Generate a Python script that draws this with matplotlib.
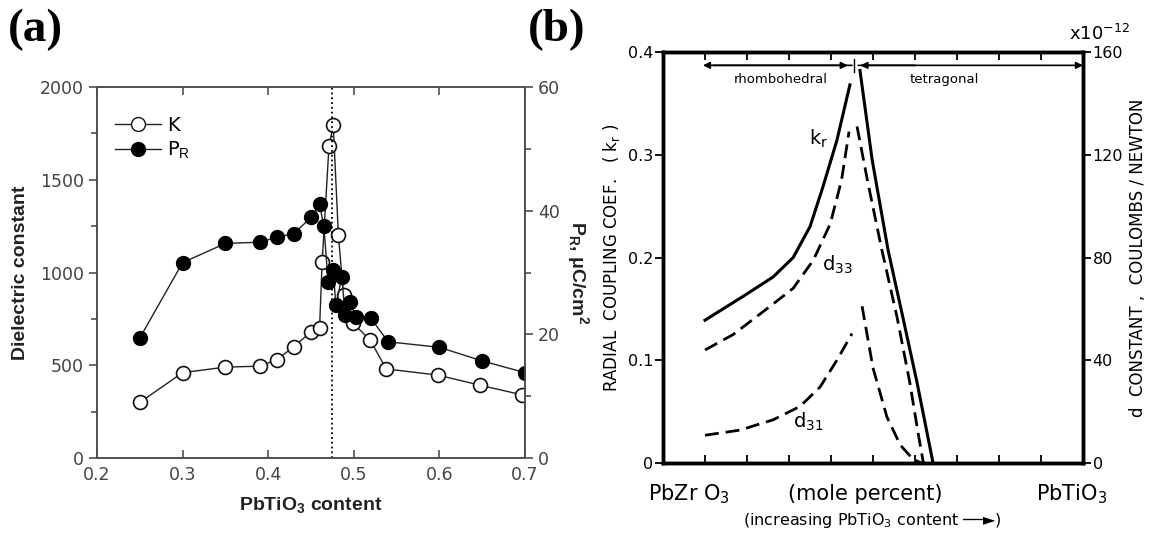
import matplotlib.pyplot as plt
from matplotlib.ticker import MultipleLocator
from matplotlib.lines import Line2D

plt.rcParams["mathtext.fontset"] = "custom"
plt.rcParams["mathtext.rm"] = "Liberation Sans"
plt.rcParams["mathtext.bf"] = "Liberation Sans:bold"
plt.rcParams["mathtext.default"] = "regular"

# ---- panel (a): dielectric constant K and remanent polarization P_R ----
K_X = [0.25, 0.30, 0.35, 0.39, 0.41, 0.43, 0.45, 0.46, 0.463, 0.471,
       0.476, 0.482, 0.488, 0.499, 0.519, 0.538, 0.598, 0.647, 0.697]
K_VAL = [300, 460, 490, 495, 530, 600, 680, 700, 1055, 1680,
         1795, 1200, 880, 727, 636, 480, 447, 393, 340]

PR_X = [0.25, 0.30, 0.35, 0.39, 0.41, 0.43, 0.45, 0.46, 0.465, 0.47,
        0.476, 0.479, 0.486, 0.49, 0.496, 0.502, 0.52, 0.54, 0.60, 0.65, 0.70]
PR_VAL = [19.4, 31.6, 34.7, 34.9, 35.7, 36.3, 38.9, 41.0, 37.5, 28.5,
          30.4, 24.7, 29.2, 23.1, 25.3, 22.8, 22.6, 18.8, 17.9, 15.7, 13.8]

MPB_X = 0.475

A_XTICKS = [0.2, 0.3, 0.4, 0.5, 0.6, 0.7]
A_XTICKLABELS = ["0.2", "0.3", "0.4", "0.5", "0.6", "0.7"]

# ---- panel (b): PZT coupling coefficient k_r (left) and d constants (right, x1e-12 C/N) ----
KR_RISE_X = [10, 19, 26.2, 31, 35, 38.1, 41.4, 44.5]
KR_RISE = [0.139, 0.162, 0.181, 0.200, 0.230, 0.269, 0.314, 0.368]
KR_FALL_X = [46.9, 49.8, 53.6, 57.1, 60.5, 64.3]
KR_FALL = [0.382, 0.295, 0.207, 0.142, 0.078, 0.0]

D33_RISE_X = [10, 16.7, 24.7, 31, 35.8, 39.8, 42.5, 44.3]
D33_RISE = [44, 50, 60, 68, 79, 93, 110, 129]
D33_FALL_X = [46.2, 48.8, 52.1, 55.7, 58.8, 60.7, 62.0]
D33_FALL = [131, 109, 83, 57, 31, 12, 0]

D31_RISE_X = [10, 18.3, 26.2, 32.6, 37.4, 41.4, 45.0]
D31_RISE = [10.8, 12.8, 16.8, 22, 29.6, 40, 50.4]
D31_FALL_X = [47.4, 50, 53.3, 56.5, 59.5, 61.5]
D31_FALL = [61, 37, 18, 7, 1.5, 0]

B_XTICKS = [10, 20, 30, 40, 50, 60, 70, 80, 90]
B_YTICKS = [0, 0.1, 0.2, 0.3, 0.4]
B_YTICKLABELS = ["0", "0.1", "0.2", "0.3", "0.4"]
B_Y2TICKS = [0, 40, 80, 120, 160]

PHASE_X = 45.5

W, H = 1150, 533
fig = plt.figure(figsize=(W / 100, H / 100), dpi=100)

# ------------------------------------------------------------------ (a)
gray = "#505050"
ax = fig.add_axes([97 / W, 75 / H, 428 / W, 371 / H])
ax2 = ax.twinx()

ax.plot(K_X, K_VAL, "-", color="#222", lw=1.0, marker="o", ms=10,
        mfc="white", mec="#111", mew=1.2)
ax2.plot(PR_X, PR_VAL, "-", color="#222", lw=1.0, marker="o", ms=10,
         mfc="black", mec="black")
ax.axvline(MPB_X, color="black", ls=":", lw=1.3)

ax.set_xlim(0.2, 0.7)
ax.set_ylim(0, 2000)
ax2.set_ylim(0, 60)
ax.set_xticks(A_XTICKS)
ax.set_xticklabels(A_XTICKLABELS)
ax.yaxis.set_major_locator(MultipleLocator(500))
ax.yaxis.set_minor_locator(MultipleLocator(250))
ax2.yaxis.set_major_locator(MultipleLocator(20))
ax2.yaxis.set_minor_locator(MultipleLocator(10))

for a in (ax, ax2):
    for s in a.spines.values():
        s.set_color(gray)
        s.set_linewidth(1.2)
ax.tick_params(axis="x", direction="in", top=True, length=6, width=1.2,
               color=gray, labelcolor="#444", labelsize=12.5, pad=6)
for a in (ax, ax2):
    a.tick_params(axis="y", which="both", direction="out", width=1.2,
                  color=gray, labelcolor="#444", labelsize=12.5)
    a.tick_params(axis="y", which="major", length=6)
    a.tick_params(axis="y", which="minor", length=4)

ax.set_ylabel("Dielectric constant", fontsize=14, fontweight="bold",
              family="Liberation Sans", color="#222", labelpad=8)
ax.set_xlabel(r"PbTiO$_\mathbf{3}$ content", fontsize=14, fontweight="bold",
              family="Liberation Sans", color="#222", labelpad=8)
ax2.set_ylabel(r"P$_\mathbf{R}$, μC/cm$^\mathbf{2}$", fontsize=14,
               fontweight="bold", family="Liberation Sans", color="#222",
               rotation=270, labelpad=22)

handles = [
    Line2D([], [], color="#222", lw=1.0, marker="o", ms=10, mfc="white", mec="#111"),
    Line2D([], [], color="#222", lw=1.0, marker="o", ms=10, mfc="black", mec="black"),
]
ax2.legend(handles, ["K", r"P$_\mathrm{R}$"], loc="upper left",
           bbox_to_anchor=(0.0, 0.97), frameon=False, handlelength=2.4,
           handletextpad=0.3, labelspacing=0.25, fontsize=14)

fig.text(8 / W, 1 - 30 / H, "(a)", fontsize=34, fontweight="bold",
         family="Liberation Serif", va="center", ha="left")

# ------------------------------------------------------------------ (b)
bx = fig.add_axes([663 / W, 70 / H, 420 / W, 411 / H])
bx2 = bx.twinx()

bx.plot(KR_RISE_X, KR_RISE, color="black", lw=2.2)
bx.plot(KR_FALL_X, KR_FALL, color="black", lw=2.2)
dash = (0, (5, 2.5))
for xs, ys in ((D33_RISE_X, D33_RISE), (D33_FALL_X, D33_FALL),
               (D31_RISE_X, D31_RISE), (D31_FALL_X, D31_FALL)):
    bx2.plot(xs, ys, color="black", lw=2.0, linestyle=dash)

bx.set_xlim(0, 100)
bx.set_ylim(0, 0.4)
bx2.set_ylim(0, 160)
bx.set_xticks(B_XTICKS)
bx.set_xticklabels([])
bx.set_yticks(B_YTICKS)
bx.set_yticklabels(B_YTICKLABELS)
bx2.set_yticks(B_Y2TICKS)

for a in (bx, bx2):
    for s in a.spines.values():
        s.set_linewidth(2.5)
bx.tick_params(axis="x", direction="in", top=True, length=6, width=1.3)
bx.tick_params(axis="y", direction="out", length=6, width=1.3,
               labelsize=11.5, pad=1)
bx2.tick_params(axis="y", direction="out", length=6, width=1.3,
                labelsize=11.5, pad=1)

# phase arrows along the top
arrow_y = 0.387
arrow_kw = dict(arrowstyle="-|>", color="black", lw=1.2,
                mutation_scale=10, shrinkA=0, shrinkB=0)
bx.annotate("", xy=(9.5, arrow_y), xytext=(PHASE_X - 0.5, arrow_y), arrowprops=arrow_kw)
bx.annotate("", xy=(PHASE_X - 1.5, arrow_y), xytext=(12, arrow_y), arrowprops=arrow_kw)
bx.annotate("", xy=(100, arrow_y), xytext=(PHASE_X + 1, arrow_y), arrowprops=arrow_kw)
bx.annotate("", xy=(PHASE_X + 1.5, arrow_y), xytext=(60, arrow_y), arrowprops=arrow_kw)
bx.plot([PHASE_X, PHASE_X], [arrow_y - 0.006, arrow_y + 0.006], color="black", lw=1)
bx.text(28, 0.373, "rhombohedral", fontsize=9.5, ha="center", va="center")
bx.text(67, 0.373, "tetragonal", fontsize=9.5, ha="center", va="center")

bx.text(37, 0.315, r"k$_r$", fontsize=14, ha="center", va="center")
bx.text(41.5, 0.193, r"d$_{33}$", fontsize=14, ha="center", va="center")
bx.text(34.5, 0.04, r"d$_{31}$", fontsize=14, ha="center", va="center")

bx.set_ylabel(r"RADIAL  COUPLING COEF.   ( k$_r$ )", fontsize=12, labelpad=4)
bx2.set_ylabel("d  CONSTANT ,  COULOMBS / NEWTON", fontsize=12,
               rotation=90, labelpad=4)
bx2.text(1.04, 1.045, r"x10$^{-12}$", transform=bx2.transAxes, fontsize=13,
         ha="center", va="center")

fig.text(648 / W, 1 - 494 / H, r"PbZr O$_3$", fontsize=15, ha="left", va="center")
fig.text(865 / W, 1 - 494 / H, "(mole percent)", fontsize=15, ha="center", va="center")
fig.text(1072 / W, 1 - 494 / H, r"PbTiO$_3$", fontsize=15, ha="center", va="center")
fig.text(872 / W, 1 - 521 / H, r"(increasing PbTiO$_3$ content ──►)",
         fontsize=11.5, ha="center", va="center")

fig.text(528 / W, 1 - 30 / H, "(b)", fontsize=34, fontweight="bold",
         family="Liberation Serif", va="center", ha="left")

fig.savefig("out.png", dpi=100, facecolor="white")
